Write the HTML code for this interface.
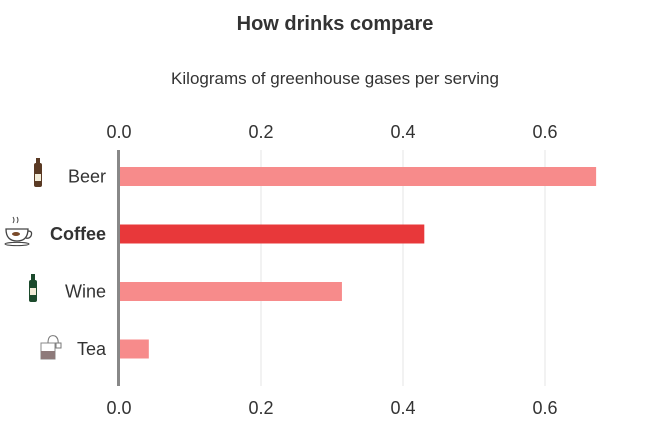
<!DOCTYPE html>
<html><head><meta charset="utf-8"><style>
body{margin:0;background:#fff;width:671px;height:439px;overflow:hidden;font-family:"Liberation Sans","DejaVu Sans",sans-serif;}
</style></head><body>
<svg id="c" width="671" height="439">
<text x="335" y="30" text-anchor="middle" font-size="20" font-weight="bold" fill="#333">How drinks compare</text>
<text x="335" y="84" text-anchor="middle" font-size="17" fill="#333">Kilograms of greenhouse gases per serving</text>
<g id="grid"></g><g id="bars"></g><g id="labels"></g>
<line x1="118.5" y1="150" x2="118.5" y2="386" stroke="#888" stroke-width="3"/>
<g><rect x="36" y="158" width="4" height="6" fill="#5a3a24"/><rect x="34" y="163" width="8" height="24" rx="2" fill="#5a3a24"/><rect x="35" y="174" width="6" height="7" fill="#f3ecd8"/></g>
<g><path d="M6 229 h22 q0 12 -11 12 q-11 0 -11 -12z" fill="none" stroke="#444" stroke-width="1.3"/><path d="M28 231 q5 0 3 5 q-2 3 -5 2" fill="none" stroke="#444" stroke-width="1.3"/><ellipse cx="17" cy="244" rx="12" ry="1.6" fill="none" stroke="#444"/><ellipse cx="16" cy="234" rx="4" ry="2" fill="#7a4a2a"/><path d="M13 217 q2 3 0 6 M17 217 q2 3 0 6" stroke="#444" fill="none"/></g>
<g><rect x="31" y="274" width="4" height="6" fill="#1c4a2c"/><rect x="29" y="280" width="8" height="22" rx="2" fill="#1c4a2c"/><rect x="30" y="288" width="6" height="7" fill="#f3ecd8"/></g>
<g><path d="M41 343 h14 v16 h-14z" fill="#fff" stroke="#888"/><rect x="41" y="351" width="14" height="8" fill="#8d7a7a"/><path d="M48 343 q0 -9 7 -7 q4 2 3 9" fill="none" stroke="#777"/><rect x="56" y="343" width="5" height="5" fill="#fff" stroke="#777"/></g>
</svg>
<script>
const categories=["Beer","Coffee","Wine","Tea"];
const values=[0.672,0.43,0.314,0.042];
const highlight=[false,true,false,false];
const ticks=[0,0.2,0.4,0.6];
const tickLabels=["0.0","0.2","0.4","0.6"];
const NS="http://www.w3.org/2000/svg";
const x=v=>119+v*710;
const y=i=>176.5+i*57.5;
function mk(t,a,p){const e=document.createElementNS(NS,t);for(const k in a)e.setAttribute(k,a[k]);p.appendChild(e);return e;}
const g=document.getElementById('grid'),b=document.getElementById('bars'),l=document.getElementById('labels');
ticks.forEach((t,i)=>{
 if(t>0){const ln=mk('line',{x1:x(t),x2:x(t),y1:150,y2:386,stroke:'#e6e6e6'},g);
 
 }
 [138,414].forEach((yy,j)=>{const tx=mk('text',{x:x(t),y:yy,'text-anchor':'middle','font-size':18,fill:'#333'},g);tx.textContent=tickLabels[i];
 
 });
});
categories.forEach((c,i)=>{
 const r=mk('rect',{x:119,y:y(i)-9.5,width:x(values[i])-119,height:19,fill:highlight[i]?'#e8383a':'#f78b8b'},b);
 
 
 const t=mk('text',{x:106,y:y(i)+6,'text-anchor':'end','font-size':18,fill:'#333','font-weight':highlight[i]?'bold':'normal'},l);t.textContent=c;
 
 
});
</script>
</body></html>
